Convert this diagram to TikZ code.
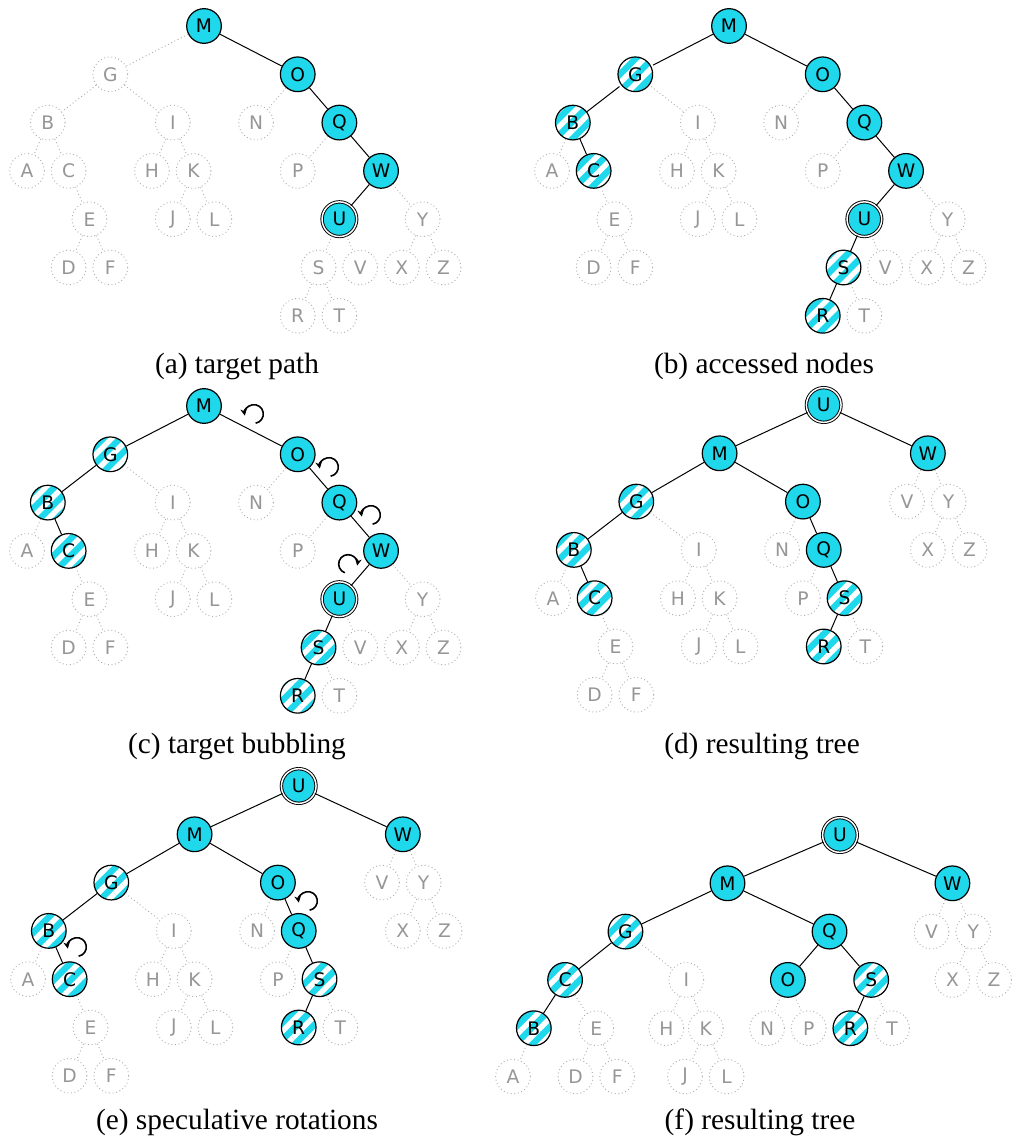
\documentclass[tikz,border=0pt]{standalone}
\usepackage{fontspec}
\setmainfont{Liberation Serif}
\newfontfamily\keyfont{DejaVu Sans}
\usetikzlibrary{arrows.meta,patterns.meta}

\definecolor{keycyan}{RGB}{32,216,236}
\definecolor{fadetext}{RGB}{150,150,150}
\definecolor{fadeline}{RGB}{175,175,175}

% 树的布局: 名称/列/层
\newcommand\treeone{M/4.25/0, G/2/1, O/6.5/1, B/0.5/2, I/3.5/2, N/5.5/2, Q/7.5/2,
  A/0/3, C/1/3, H/3/3, K/4/3, P/6.5/3, W/8.5/3, E/1.5/4, J/3.5/4, L/4.5/4,
  U/7.5/4, Y/9.5/4, D/1/5, F/2/5, S/7/5, V/8/5, X/9/5, Z/10/5, R/6.5/6, T/7.5/6}
\newcommand\edgesone{M/G, M/O, G/B, G/I, B/A, B/C, C/E, E/D, E/F, I/H, I/K, K/J,
  K/L, O/N, O/Q, Q/P, Q/W, W/U, W/Y, U/S, U/V, S/R, S/T, Y/X, Y/Z}
\newcommand\treetwo{U/6.5/0, M/4/1, W/9/1, G/2/2, O/6/2, V/8.5/2, Y/9.5/2,
  B/0.5/3, I/3.5/3, N/5.5/3, Q/6.5/3, X/9/3, Z/10/3, A/0/4, C/1/4, H/3/4, K/4/4,
  P/6/4, S/7/4, E/1.5/5, J/3.5/5, L/4.5/5, R/6.5/5, T/7.5/5, D/1/6, F/2/6}
\newcommand\edgestwo{U/M, U/W, M/G, M/O, G/B, G/I, B/A, B/C, C/E, E/D, E/F, I/H,
  I/K, K/J, K/L, O/N, O/Q, Q/P, Q/S, S/R, S/T, W/V, W/Y, Y/X, Y/Z}
\newcommand\treethree{U/7.85/0, M/5.15/1, W/10.55/1, G/2.7/2, Q/7.6/2, V/10.05/2,
  Y/11.05/2, C/1.25/3, I/4.16/3, O/6.6/3, S/8.6/3, X/10.55/3, Z/11.55/3, B/0.5/4,
  E/2/4, H/3.68/4, K/4.63/4, N/6.1/4, P/7.1/4, R/8.1/4, T/9.1/4, A/0/5, D/1.5/5,
  F/2.5/5, J/4.13/5, L/5.13/5}
\newcommand\edgesthree{U/M, U/W, M/G, M/Q, G/C, G/I, C/B, C/E, B/A, E/D, E/F, I/H,
  I/K, K/J, K/L, Q/O, Q/S, O/N, O/P, S/R, S/T, W/V, W/Y, Y/X, Y/Z}

\tikzset{
  key/.style={circle, minimum size=26pt, inner sep=0pt,
    font=\keyfont\fontsize{14}{16}\selectfont},
  faded/.style={key, draw=fadeline, dotted, line width=0.7pt, text=fadetext},
  onpath/.style={key, draw=black, solid, line width=0.9pt, fill=keycyan, text=black},
  target/.style={onpath, double, double distance=1.1pt, line width=0.7pt},
  accessed/.style={key, draw=black, solid, line width=0.9pt, text=black,
    preaction={fill=keycyan},
    pattern={Lines[angle=45, distance=9pt, line width=4pt]}, pattern color=white},
  faint/.style={draw=fadeline, dotted, line width=0.7pt},
  link/.style={draw=black, solid, line width=0.75pt},
  rot/.style={line width=1.2pt, -{Stealth[length=5pt, width=5pt]}},
  caption/.style={font=\fontsize{22}{26}\selectfont},
  % 各子图的高亮
  hilite a/.style={role M/.style=onpath, role O/.style=onpath, role Q/.style=onpath,
    role W/.style=onpath, role U/.style=target,
    lit MO/.style=link, lit OQ/.style=link, lit QW/.style=link, lit WU/.style=link},
  hilite b/.style={hilite a, role G/.style=accessed, role B/.style=accessed,
    role C/.style=accessed, role S/.style=accessed, role R/.style=accessed,
    lit MG/.style=link, lit GB/.style=link, lit BC/.style=link,
    lit US/.style=link, lit SR/.style=link},
  hilite d/.style={role U/.style=target, role M/.style=onpath, role W/.style=onpath,
    role O/.style=onpath, role Q/.style=onpath, role G/.style=accessed,
    role B/.style=accessed, role C/.style=accessed, role S/.style=accessed,
    role R/.style=accessed, lit UM/.style=link, lit UW/.style=link,
    lit MG/.style=link, lit MO/.style=link, lit GB/.style=link, lit BC/.style=link,
    lit OQ/.style=link, lit QS/.style=link, lit SR/.style=link},
  hilite f/.style={role U/.style=target, role M/.style=onpath, role W/.style=onpath,
    role Q/.style=onpath, role O/.style=onpath, role G/.style=accessed,
    role C/.style=accessed, role B/.style=accessed, role S/.style=accessed,
    role R/.style=accessed, lit UM/.style=link, lit UW/.style=link,
    lit MG/.style=link, lit MQ/.style=link, lit GC/.style=link, lit CB/.style=link,
    lit QO/.style=link, lit QS/.style=link, lit SR/.style=link},
}

\begin{document}
\begin{tikzpicture}[x=0.75pt, y=-0.75pt]
    \def\hs{41.65}
    \def\vs{48.3}
    \useasboundingbox (0,0) rectangle (1019,1144);

    % (a) 目标路径
    \begin{scope}[shift={(27,26)}, hilite a]
        \foreach \n/\i/\j in \treeone
            \node[faded, role \n/.try] (a\n) at (\hs*\i, \vs*\j) {\n};
        \foreach \p/\c in \edgesone
            \draw[faint, lit \p\c/.try] (a\p) -- (a\c);
    \end{scope}
    \node[caption] (capa) at (237,366) {(a) target path};

    % (b) 访问过的结点
    \begin{scope}[shift={(552,26)}, hilite b]
        \foreach \n/\i/\j in \treeone
            \node[faded, role \n/.try] (b\n) at (\hs*\i, \vs*\j) {\n};
        \foreach \p/\c in \edgesone
            \draw[faint, lit \p\c/.try] (b\p) -- (b\c);
    \end{scope}
    \node[caption] (capb) at (764,366) {(b) accessed nodes};

    % (c) 目标上浮
    \begin{scope}[shift={(27,406)}, hilite b]
        \foreach \n/\i/\j in \treeone
            \node[faded, role \n/.try] (c\n) at (\hs*\i, \vs*\j) {\n};
        \foreach \p/\c in \edgesone
            \draw[faint, lit \p\c/.try] (c\p) -- (c\c);
    \end{scope}
    \draw[rot] (254,414) ++(-80:7pt) arc[start angle=-80, end angle=190, radius=7pt];
    \draw[rot] (329,467) ++(-80:7pt) arc[start angle=-80, end angle=190, radius=7pt];
    \draw[rot] (371,515) ++(-80:7pt) arc[start angle=-80, end angle=190, radius=7pt];
    \draw[rot] (348,564) ++(250:7pt) arc[start angle=250, end angle=-10, radius=7pt];
    \node[caption] (capc) at (237,746) {(c) target bubbling};

    % (d) 结果
    \begin{scope}[shift={(553,405)}, hilite d]
        \foreach \n/\i/\j in \treetwo
            \node[faded, role \n/.try] (d\n) at (\hs*\i, \vs*\j) {\n};
        \foreach \p/\c in \edgestwo
            \draw[faint, lit \p\c/.try] (d\p) -- (d\c);
    \end{scope}
    \node[caption] (capd) at (762,746) {(d) resulting tree};

    % (e) 推测旋转
    \begin{scope}[shift={(28,786)}, hilite d]
        \foreach \n/\i/\j in \treetwo
            \node[faded, role \n/.try] (e\n) at (\hs*\i, \vs*\j) {\n};
        \foreach \p/\c in \edgestwo
            \draw[faint, lit \p\c/.try] (e\p) -- (e\c);
    \end{scope}
    \draw[rot] (77,947) ++(-80:7pt) arc[start angle=-80, end angle=190, radius=7pt];
    \draw[rot] (308,901) ++(-80:7pt) arc[start angle=-80, end angle=190, radius=7pt];
    \node[caption] (cape) at (237,1122) {(e) speculative rotations};

    % (f) 结果
    \begin{scope}[shift={(513,835)}, hilite f]
        \foreach \n/\i/\j in \treethree
            \node[faded, role \n/.try] (f\n) at (\hs*\i, \vs*\j) {\n};
        \foreach \p/\c in \edgesthree
            \draw[faint, lit \p\c/.try] (f\p) -- (f\c);
    \end{scope}
    \node[caption] (capf) at (760,1122) {(f) resulting tree};
\end{tikzpicture}
\end{document}
